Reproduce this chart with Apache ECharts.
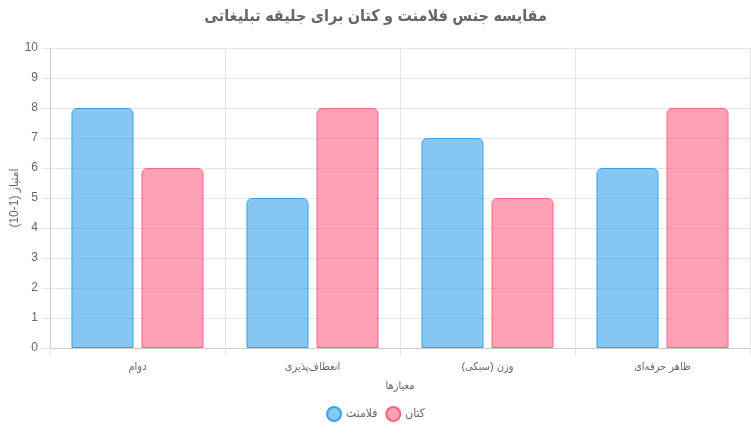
<!DOCTYPE html>
<html><head><meta charset="utf-8">
<script src="https://cdn.jsdelivr.net/npm/echarts@6/dist/echarts.min.js"></script>
<style>html,body{margin:0;padding:0;background:#fff}#c{width:751px;height:433px}</style>
</head><body><div id="c"></div>
<script>
const titleText = 'مقایسه جنس فلامنت و کتان برای جلیقه تبلیغاتی';
const categories = ['دوام', 'انعطاف‌پذیری', 'وزن (سبکی)', 'ظاهر حرفه‌ای'];
const filamentName = 'فلامنت';
const cottonName = 'کتان';
const filament = [8, 5, 7, 6];
const cotton = [6, 8, 5, 8];
const yTicks = {min: 0, max: 10, interval: 1};
const xAxisName = 'معیارها';
const yAxisName = 'امتیاز (1-10)';

const font = 'Arial, "Liberation Sans", "DejaVu Sans Condensed", "DejaVu Sans", sans-serif';
const chart = echarts.init(document.getElementById('c'));
chart.setOption({
  animation: false,
  textStyle: {fontFamily: font},
  title: {text: titleText, left: 'center', top: 4,
    textStyle: {fontSize: 16, fontWeight: 'bold', color: '#666', fontFamily: font}},
  legend: {bottom: 6, left: 'center', itemWidth: 14, itemHeight: 14, itemGap: 8,
    icon: 'circle', textStyle: {color: '#666', fontSize: 12},
    data: [filamentName, cottonName]},
  grid: {left: 50, right: 1, top: 48, bottom: 85, containLabel: false, outerBoundsMode: 'none'},
  xAxis: {type: 'category', data: categories,
    name: xAxisName, nameLocation: 'middle', nameGap: 32,
    nameTextStyle: {color: '#666', fontSize: 11},
    axisLine: {lineStyle: {color: '#ccc'}},
    axisTick: {show: true, length: 8, lineStyle: {color: '#e5e5e5'}},
    axisLabel: {color: '#666', fontSize: 11, margin: 13},
    splitLine: {show: true, lineStyle: {color: '#e5e5e5'}}},
  yAxis: {type: 'value', min: yTicks.min, max: yTicks.max, interval: yTicks.interval,
    name: yAxisName, nameLocation: 'middle', nameGap: 29, nameRotate: 90,
    nameMoveOverlap: false,
    nameTextStyle: {color: '#666', fontSize: 12},
    axisLine: {show: true, lineStyle: {color: '#ccc'}},
    axisTick: {show: true, length: 8, lineStyle: {color: '#e5e5e5'}},
    axisLabel: {color: '#666', fontSize: 12, margin: 12},
    splitLine: {lineStyle: {color: '#e5e5e5'}}},
  series: [
    {name: filamentName, type: 'bar', data: filament, barWidth: 62, barGap: '13%',
      itemStyle: {color: 'rgba(54,162,235,0.6)', borderColor: 'rgb(54,162,235)', borderWidth: 1, borderRadius: [5,5,0,0]}},
    {name: cottonName, type: 'bar', data: cotton, barWidth: 62,
      itemStyle: {color: 'rgba(255,99,132,0.6)', borderColor: 'rgb(255,99,132)', borderWidth: 1, borderRadius: [5,5,0,0]}}
  ]
});
</script></body></html>
